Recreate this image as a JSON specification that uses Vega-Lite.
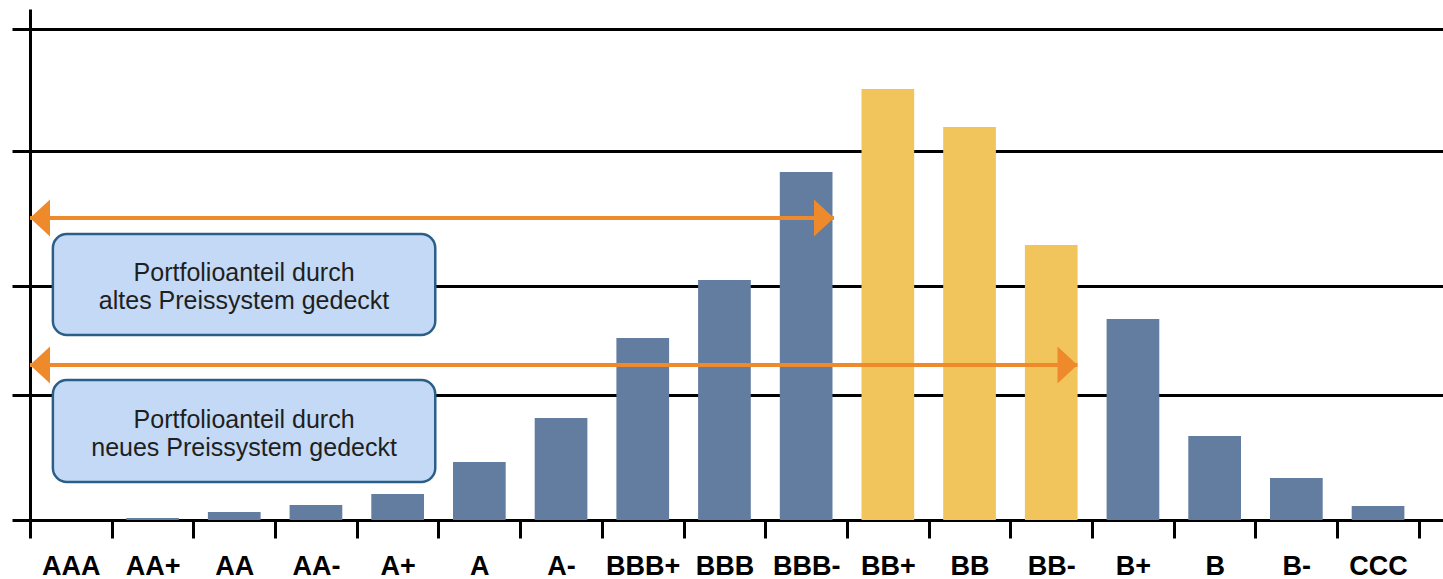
{
  "$schema": "https://vega.github.io/schema/vega-lite/v6.json",
  "width": 1413,
  "height": 511,
  "autosize": {"type": "none"},
  "padding": {"left": 30, "top": 9, "right": 0, "bottom": 59},
  "background": "white",
  "config": {"view": {"stroke": null}, "font": "Liberation Sans"},
  "datasets": {
    "ratings": [
      {"rating": "AAA", "anteil": 0, "gruppe": "blau"},
      {"rating": "AA+", "anteil": 2, "gruppe": "blau"},
      {"rating": "AA", "anteil": 8, "gruppe": "blau"},
      {"rating": "AA-", "anteil": 15, "gruppe": "blau"},
      {"rating": "A+", "anteil": 26, "gruppe": "blau"},
      {"rating": "A", "anteil": 58, "gruppe": "blau"},
      {"rating": "A-", "anteil": 102, "gruppe": "blau"},
      {"rating": "BBB+", "anteil": 182, "gruppe": "blau"},
      {"rating": "BBB", "anteil": 240, "gruppe": "blau"},
      {"rating": "BBB-", "anteil": 348, "gruppe": "blau"},
      {"rating": "BB+", "anteil": 431, "gruppe": "gelb"},
      {"rating": "BB", "anteil": 393, "gruppe": "gelb"},
      {"rating": "BB-", "anteil": 275, "gruppe": "gelb"},
      {"rating": "B+", "anteil": 201, "gruppe": "blau"},
      {"rating": "B", "anteil": 84, "gruppe": "blau"},
      {"rating": "B-", "anteil": 42, "gruppe": "blau"},
      {"rating": "CCC", "anteil": 14, "gruppe": "blau"}
    ],
    "arrows": [
      {"name": "alt", "von": 0, "bis": 9.84, "hoehe": 302},
      {"name": "neu", "von": 0, "bis": 12.82, "hoehe": 155}
    ],
    "boxes": [
      {"name": "alt", "x0": 0.28, "x1": 4.96, "y0": 185, "y1": 286, "xm": 2.62, "ym": 247, "text": "Portfolioanteil durch\naltes Preissystem gedeckt"},
      {"name": "neu", "x0": 0.28, "x1": 4.96, "y0": 38, "y1": 140, "xm": 2.62, "ym": 100, "text": "Portfolioanteil durch\nneues Preissystem gedeckt"}
    ]
  },
  "resolve": {"scale": {"x": "independent", "y": "independent"}},
  "layer": [
    {
      "data": {"name": "ratings"},
      "mark": {"type": "bar", "width": {"band": 0.645}},
      "encoding": {
        "x": {
          "field": "rating",
          "type": "nominal",
          "sort": null,
          "scale": {"paddingInner": 0, "paddingOuter": 0.1475, "align": 0},
          "axis": {
            "title": null,
            "domain": false,
            "grid": false,
            "tickBand": "extent",
            "ticks": true,
            "tickSize": 18,
            "tickWidth": 3,
            "tickColor": "black",
            "labelAngle": 0,
            "labelFont": "Liberation Sans",
            "labelFontSize": 27,
            "labelFontWeight": "bold",
            "labelColor": "black",
            "labelPadding": 15
          }
        },
        "y": {
          "field": "anteil",
          "type": "quantitative",
          "scale": {"domain": [0, 511]},
          "axis": {
            "title": null,
            "orient": "left",
            "values": [0, 125, 234, 369, 491],
            "labels": false,
            "domain": true,
            "domainColor": "black",
            "domainWidth": 3,
            "ticks": true,
            "tickSize": 18,
            "tickWidth": 3,
            "tickColor": "black",
            "grid": true,
            "gridColor": "black",
            "gridWidth": 3,
            "gridOpacity": 1
          }
        },
        "color": {
          "field": "gruppe",
          "type": "nominal",
          "scale": {"domain": ["blau", "gelb"], "range": ["#627d9f", "#f1c55c"]},
          "legend": null
        }
      }
    },
    {
      "layer": [
        {
          "data": {"name": "boxes"},
          "mark": {"type": "rect", "cornerRadius": 14, "fill": "#c3d9f5", "stroke": "#2b5f88", "strokeWidth": 2.5},
          "encoding": {
            "x": {"field": "x0", "type": "quantitative", "scale": {"domain": [0, 17], "range": [0, 1389]}, "axis": null},
            "x2": {"field": "x1"},
            "y": {"field": "y0", "type": "quantitative", "scale": {"domain": [0, 511]}, "axis": null},
            "y2": {"field": "y1"}
          }
        },
        {
          "data": {"name": "boxes"},
          "mark": {"type": "text", "lineBreak": "\n", "align": "center", "baseline": "middle", "font": "Liberation Sans", "fontSize": 25, "lineHeight": 28, "color": "#1f1f1f"},
          "encoding": {
            "x": {"field": "xm", "type": "quantitative", "scale": {"domain": [0, 17], "range": [0, 1389]}, "axis": null},
            "y": {"field": "ym", "type": "quantitative", "scale": {"domain": [0, 511]}, "axis": null},
            "text": {"field": "text"}
          }
        },
        {
          "data": {"name": "arrows"},
          "mark": {"type": "rule", "color": "#ee8a2b", "strokeWidth": 4},
          "encoding": {
            "x": {"field": "von", "type": "quantitative", "scale": {"domain": [0, 17], "range": [0, 1389]}, "axis": null},
            "x2": {"field": "bis"},
            "y": {"field": "hoehe", "type": "quantitative", "scale": {"domain": [0, 511]}, "axis": null}
          }
        },
        {
          "data": {"name": "arrows"},
          "mark": {"type": "point", "filled": true, "color": "#ee8a2b", "opacity": 1, "size": 1600, "shape": "M0,0 L1,-0.92 L1,0.92 Z", "strokeWidth": 0},
          "encoding": {
            "x": {"field": "von", "type": "quantitative", "scale": {"domain": [0, 17], "range": [0, 1389]}, "axis": null},
            "y": {"field": "hoehe", "type": "quantitative", "scale": {"domain": [0, 511]}, "axis": null}
          }
        },
        {
          "data": {"name": "arrows"},
          "mark": {"type": "point", "filled": true, "color": "#ee8a2b", "opacity": 1, "size": 1600, "shape": "M0,0 L-1,-0.92 L-1,0.92 Z", "strokeWidth": 0},
          "encoding": {
            "x": {"field": "bis", "type": "quantitative", "scale": {"domain": [0, 17], "range": [0, 1389]}, "axis": null},
            "y": {"field": "hoehe", "type": "quantitative", "scale": {"domain": [0, 511]}, "axis": null}
          }
        }
      ]
    }
  ]
}
